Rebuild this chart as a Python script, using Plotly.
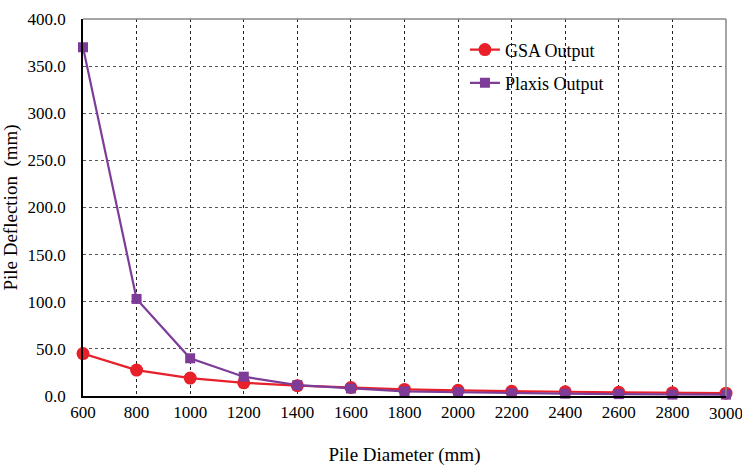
import plotly.graph_objects as go

diameters = [600, 800, 1000, 1200, 1400, 1600, 1800, 2000, 2200, 2400, 2600, 2800, 3000]
gsa_output = [45.0, 27.5, 19.0, 14.0, 11.0, 9.0, 7.0, 6.0, 5.0, 4.5, 4.0, 3.5, 3.0]
plaxis_output = [370.0, 103.0, 40.0, 20.5, 11.5, 8.0, 5.0, 4.0, 3.0, 2.5, 2.0, 1.5, 1.5]
y_ticks = [0, 50, 100, 150, 200, 250, 300, 350, 400]

font_family = "Times New Roman, Liberation Serif, serif"
tick_font = dict(size=17, family=font_family, color="black")

fig = go.Figure()
fig.add_trace(go.Scatter(
    x=diameters, y=gsa_output, name="GSA Output", mode="lines+markers",
    line=dict(color="#e8202a", width=2.2),
    marker=dict(symbol="circle", size=13, color="#e8202a"),
    cliponaxis=False, legend="legend",
))
fig.add_trace(go.Scatter(
    x=diameters, y=plaxis_output, name="Plaxis Output", mode="lines+markers",
    line=dict(color="#7d3c98", width=2.2),
    marker=dict(symbol="square", size=10, color="#7d3c98"),
    cliponaxis=False, legend="legend2",
))

legend_common = dict(xanchor="left", yanchor="middle", bgcolor="rgba(0,0,0,0)",
                     font=dict(size=18, family=font_family, color="black"),
                     itemwidth=30)

fig.update_layout(
    width=742, height=466,
    margin=dict(l=83, r=16, t=19, b=70, autoexpand=False),
    paper_bgcolor="white", plot_bgcolor="white",
    font=dict(family=font_family, size=17, color="black"),
    showlegend=True,
    legend=dict(x=0.594, y=0.918, **legend_common),
    legend2=dict(x=0.594, y=0.83, **legend_common),
    xaxis=dict(
        range=[600, 3000], tickmode="array", tickvals=diameters[:-1],
        ticktext=[str(d) for d in diameters[:-1]],
        showgrid=True, gridcolor="#222222", griddash="3px,3px", gridwidth=1,
        showline=True, linecolor="black", linewidth=1.5, mirror=False,
        ticks="", zeroline=False,
        automargin=False,
        title=dict(text="Pile Diameter (mm)", font=dict(size=19, family=font_family), standoff=37),
        tickfont=tick_font,
    ),
    yaxis=dict(
        range=[0, 400], tickmode="array", tickvals=y_ticks,
        ticktext=[f"{v:.1f}" for v in y_ticks],
        showgrid=True, gridcolor="#555555", griddash="3px,3px", gridwidth=1,
        showline=True, linecolor="black", linewidth=1.5,
        ticks="outside", ticklen=12, tickcolor="rgba(0,0,0,0)", zeroline=False,
        automargin=False,
        title=dict(text="Pile Deflection  (mm)", font=dict(size=19, family=font_family), standoff=10),
        tickfont=tick_font,
    ),
)
# last x tick label (plotly drops it because it overflows the page edge)
fig.add_annotation(x=diameters[-1], xref="x", y=0, yref="paper", yanchor="top",
                   yshift=-6, text=str(diameters[-1]), showarrow=False,
                   font=tick_font)
# top and right solid gray borders
fig.add_shape(type="line", xref="paper", yref="paper", x0=0, x1=1, y0=1, y1=1,
              line=dict(color="#888888", width=1.5))
fig.add_shape(type="line", xref="paper", yref="paper", x0=1, x1=1, y0=0, y1=1,
              line=dict(color="#888888", width=1.5))

fig.write_html("out.html")
